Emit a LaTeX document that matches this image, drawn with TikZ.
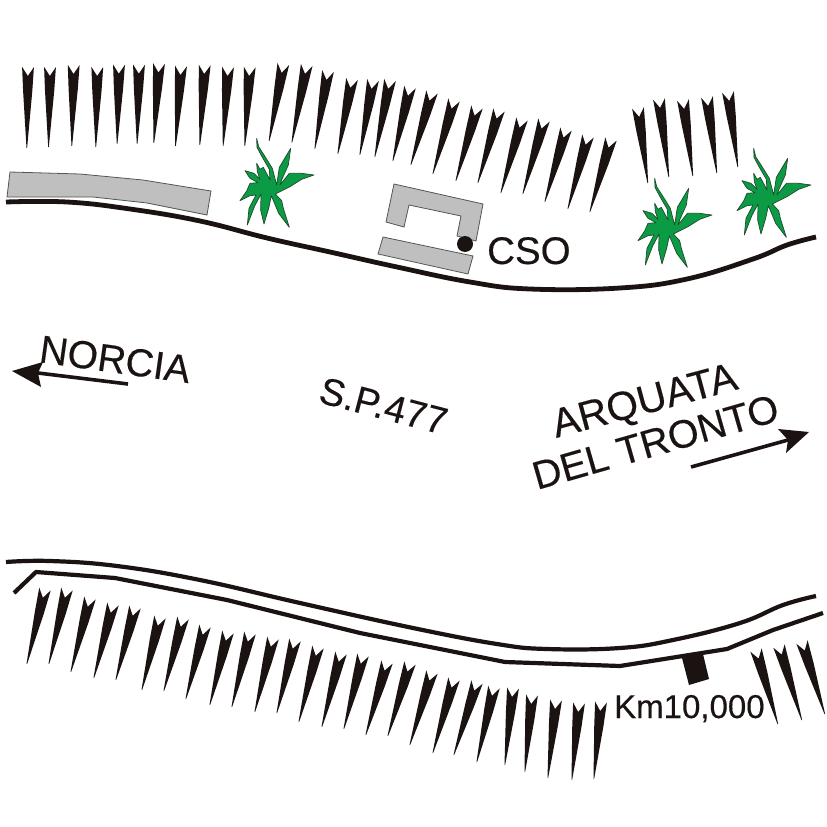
\documentclass[tikz,border=0pt]{standalone}
\usepackage{fontspec}
\setmainfont{Liberation Sans}[FakeBold=0.3]
\definecolor{ink}{HTML}{1A1311}
\definecolor{leaf}{HTML}{0C9B45}
\definecolor{leafline}{HTML}{1F4A2C}
\definecolor{bldg}{HTML}{BFBFBF}
\definecolor{bldgline}{HTML}{555555}
\tikzset{
  spikeshape/.style={fill=ink,draw=none},
  road/.style={draw=ink,line width=4.2pt,line cap=butt,line join=round},
  building/.style={fill=bldg,draw=bldgline,line width=0.8pt,line join=miter},
  plantshape/.style={fill=leaf,draw=leafline,line width=0.7pt,line join=round},
  arrowline/.style={draw=ink,line width=3.6pt},
  arrowhead/.style={fill=ink,draw=none},
  lbl/.style={anchor=base west,inner sep=0pt,text=ink}
}
\newcommand{\spk}[4]{%
  \pgfmathsetmacro{\spkang}{atan2(#3-#1,#4-#2)}%
  \pgfmathsetmacro{\spklen}{veclen(#3-#1,#4-#2)}%
  \begin{scope}[shift={(#1,#2)},rotate=\spkang]
    \path[spikeshape] (-5.9,0) -- (-4.6,24) -- (-0.5,\spklen) -- (0.1,\spklen) -- (4.6,24) -- (5.9,0) -- (0,9) -- cycle;
  \end{scope}}
\newcommand{\plantat}[2]{%
  \begin{scope}[shift={(#1,#2)},scale=0.3333]
    \path[plantshape] (120,150) -- (118,118) -- (97,82) -- (81,52) -- (80,25) -- (86,50) -- (104,78) -- (127,115) -- (136,150) -- (140,165)
      -- (148,112) -- (182,55) -- (175,105) -- (155,150) -- (150,165) -- (178,130) -- (215,130) -- (252,135) -- (215,148) -- (180,170) -- (136,192)
      -- (155,212) -- (160,235) -- (178,292) -- (146,250) -- (124,197) -- (116,235) -- (102,282) -- (92,240) -- (93,192) -- (74,228) -- (52,285)
      -- (57,235) -- (78,195) -- (60,197) -- (30,212) -- (50,183) -- (60,160) -- (84,158) -- (60,145) -- (45,122) -- (72,130) -- (90,148)
      -- (82,125) -- (80,100) -- (90,118) -- (100,112) -- cycle;
  \end{scope}}
\newcommand{\sz}[1]{\fontsize{#1}{#1}\selectfont}
\begin{document}
\begin{tikzpicture}[x=1pt,y=-1pt]
\useasboundingbox[fill=white] (0,0) rectangle (827,827);
% top row of spikes
\spk{28}{67}{27}{148}\spk{50}{67}{48.7}{147}\spk{73.7}{65}{72}{146}\spk{97.3}{67}{96}{147}
\spk{119}{64.7}{117.3}{144}\spk{139}{64.7}{137.3}{144}\spk{159}{63.5}{154}{143}\spk{181}{66}{175.7}{146}
\spk{204.7}{65}{200}{145}\spk{228}{67}{223.3}{146}\spk{249.7}{67}{245}{146}\spk{283.3}{64}{269.3}{141}
\spk{306.7}{65}{292}{142.7}\spk{328}{71}{315}{149}\spk{352}{79}{338}{154}\spk{373}{80}{360}{155}
\spk{390}{80}{375}{157}\spk{410}{87}{393}{161}\spk{432}{92}{411}{165}\spk{454}{100}{433}{174}
\spk{477}{107}{456}{181}\spk{499}{110}{478}{183}\spk{522}{119}{501}{193}\spk{544}{120}{523}{194}
\spk{566}{129}{545}{202}\spk{588}{136}{568}{209}\spk{611}{139}{590}{212}
% right group
\spk{638}{108}{648}{183}\spk{659}{99}{669}{177}\spk{683}{100}{693}{176}\spk{707}{97}{717}{173}\spk{728}{92}{738}{167}
% bottom row
\spk{45}{589}{27}{664}\spk{67}{589}{49}{664}\spk{90}{598}{71}{672}\spk{113}{604}{94}{678}
\spk{135}{607}{116}{680}\spk{160}{617}{142}{690}\spk{183}{618}{164}{691}\spk{205}{626}{186}{699}
\spk{228}{632}{210}{705}\spk{250}{633}{232}{707}\spk{273}{638}{255}{712}\spk{295}{640}{277}{713}
\spk{318}{647}{299}{722}\spk{341}{653}{322}{727}\spk{363}{655}{344}{729}\spk{387}{662}{366}{735}
\spk{410}{663}{388}{736}\spk{432}{672}{410}{745}\spk{454}{679}{433}{753}\spk{477}{682}{454}{755}
\spk{494}{687}{477}{762}\spk{513}{688}{505}{765}\spk{532}{695}{525}{772}\spk{556}{700}{548}{778}
\spk{579}{703}{572}{780}\spk{601}{702}{594}{779}
% bottom right
\spk{756}{650}{778}{724}\spk{779}{646}{802}{720}\spk{802}{642}{825}{714}
% buildings
\path[building] (10,172) -- (80,174) -- (143,180) -- (211,191) -- (207,215) -- (147,203) -- (93,197) -- (7,197) -- cycle;
\path[building] (394,184) -- (483,204) -- (476,241) -- (457,236) -- (461,216) -- (409,205) -- (404,227) -- (386,222) -- cycle;
\path[building] (383,237) -- (473,256) -- (468,274) -- (378,254) -- cycle;
\fill[ink] (465,244) circle (8);
% roads
\draw[road,line width=4.8pt] plot[smooth,tension=0.7] coordinates {(6,202) (67,202) (130,209) (200,221) (267,238) (330,252) (397,267) (470,282) (530,289) (620,288) (687,279) (753,259) (787,245) (816,237)};
\draw[road] plot[smooth,tension=0.7] coordinates {(6,562) (50,561) (117,566) (200,580) (300,603) (413,628) (497,644) (547,649) (620,648) (673,640) (740,623) (783,605) (816,596)};
\draw[road] (14,593) -- (36,572) -- (115,578) -- (227,600) -- (360,633) -- (505,662) -- (620,666) -- (727,649) -- (773,630) -- (823,613);
\fill[ink] (682,658) -- (703,654) -- (709,679) -- (689,685) -- cycle;
% plants
\plantat{230}{130}\plantat{628}{170}\plantat{727}{140}
% arrows
\draw[arrowline] (38,373) -- (128,384);
\path[arrowhead] (12,371) -- (43,362) -- (38,373) -- (41,387) -- cycle;
\draw[arrowline] (691,467) -- (788,440);
\path[arrowhead] (809,432) -- (778,429) -- (788,440) -- (786,453) -- cycle;
% labels
\node[lbl] (cso) at (487,264) {\sz{38.5}CSO};
\node[lbl,rotate=-8] (norcia) at (38,362) {\sz{39}NORCIA};
\node[lbl,rotate=-14.6] (sp) at (317,402) {\sz{38}S.P.477};
\node[lbl,rotate=15] (arq) at (556,438) {\sz{40.5}ARQUATA};
\node[lbl,rotate=16] (del) at (537,490) {\sz{39.5}DEL TRONTO};
\node[lbl] (km) at (614,718) {\sz{33}Km10,000};
\end{tikzpicture}
\end{document}
